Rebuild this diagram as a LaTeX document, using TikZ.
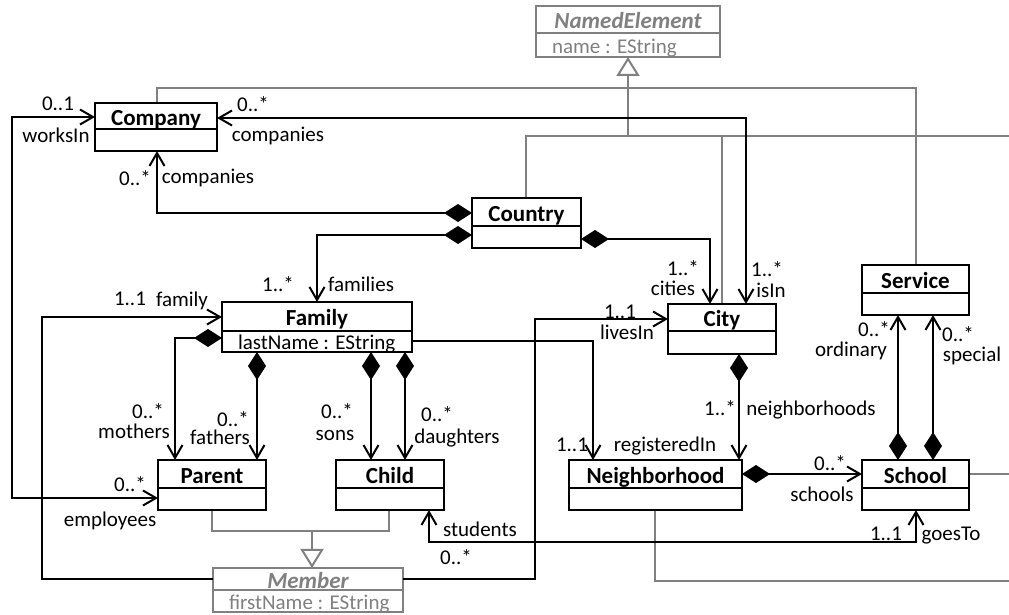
\documentclass[tikz,border=0pt]{standalone}
\usepackage{fontspec}
\setmainfont{Carlito}
\usetikzlibrary{arrows.meta}
\definecolor{umlgray}{RGB}{128,128,128}
\newcommand\lblfont{\fontsize{10.5}{12}\selectfont}
\newcommand\ttlfont{\fontsize{11.5}{13}\selectfont\bfseries}
\tikzset{
  ubarb/.tip={Straight Barb[length=6.5pt,width=7.5pt]},
  udia/.tip={Diamond[length=14pt,width=9pt]},
  ugen/.tip={Triangle[open,length=9.5pt,width=11.5pt,fill=white]},
}
% #1 name, #2 x1, #3 y1, #4 ysep, #5 x2, #6 y2, #7 title, #8 attr, #9 variant suffix ("" or "abs")
\newcommand\umlclass[9]{%
  \node[clsbox#9,anchor=north west,minimum width={(#5-#2)*0.5pt},minimum height={(#6-#3)*0.5pt}] (#1) at (#2,#3) {};
  \node[ttl#9] (#1-t) at ({(#2+#5)/2},{(#3+#4)/2}) {#7};
  \draw[sep#9] (#1.west |- 0,#4) -- (#1.east |- 0,#4);
  \node[att#9,anchor=west] (#1-a) at ({#2+15},{(#4+#6)/2}) {#8};
}
\begin{document}
\begin{tikzpicture}[x=0.5pt,y=-0.5pt,line width=1pt,
  clsbox/.style={draw=black,fill=white,line width=1pt,inner sep=0pt,outer sep=0pt},
  clsboxabs/.style={clsbox,draw=umlgray},
  lbl/.style={font=\lblfont,inner sep=0pt,text height=0.65em,text depth=0.2em,yshift=-2pt},
  ttl/.style={font=\ttlfont,inner sep=0pt,text height=0.65em,text depth=0.2em,yshift=-2.5pt},
  ttlabs/.style={ttl,font=\ttlfont\itshape,text=umlgray},
  att/.style={lbl},
  attabs/.style={lbl,text=umlgray},
  sep/.style={draw=black,line width=1pt},
  sepabs/.style={draw=umlgray,line width=1pt},
  genline/.style={draw=umlgray,line width=1pt},
  assoc/.style={draw=black,line width=1pt},
]
\useasboundingbox (0,0) rectangle (1009,615);

% generalization lines (gray)
\draw[genline] (526,198) -- (526,136) -- (1009,136);
\draw[genline] (722,304) -- (722,136);
\draw[genline] (157,103) -- (157,88) -- (916,88) -- (916,265);
\draw[genline] (969,474) -- (1009,474);
\draw[genline] (655,510) -- (655,581) -- (1009,581);
\draw[genline] (212,510) -- (212,531) -- (389,531) -- (389,510);

% classes
\umlclass{named}{536}{6}{33}{720}{57}{NamedElement}{name : EString}{abs}
\umlclass{company}{95}{103}{129}{217}{151}{Company}{}{}
\umlclass{country}{472}{198}{226}{581}{248}{Country}{}{}
\umlclass{family}{222}{302}{331}{412}{352}{Family}{lastName : EString}{}
\umlclass{city}{668}{304}{331}{776}{354}{City}{}{}
\umlclass{service}{862}{265}{293}{969}{315}{Service}{}{}
\umlclass{parent}{158}{460}{488}{266}{510}{Parent}{}{}
\umlclass{child}{336}{460}{488}{444}{510}{Child}{}{}
\umlclass{nbh}{569}{460}{488}{742}{510}{Neighborhood}{}{}
\umlclass{school}{862}{460}{488}{969}{510}{School}{}{}
\umlclass{member}{213}{568}{590}{403}{612}{Member}{firstName : EString}{abs}

% generalization arrows
\draw[genline,-ugen] (628,136) -- (named.south);
\draw[genline,-ugen] (312,531) -- (member.north -| 312,0);

% associations
\draw[assoc,ubarb-ubarb] (company.west |- 0,117) -- (12,117) -- (12,498) -- (parent.west |- 0,498);
\draw[assoc,ubarb-ubarb] (company.east |- 0,118) -- (746,118) -- (city.north -| 746,0);
\draw[assoc,udia-ubarb] (country.west |- 0,213) -- (157,213) -- (company.south -| 157,0);
\draw[assoc,udia-ubarb] (country.west |- 0,235) -- (317,235) -- (family.north -| 317,0);
\draw[assoc,udia-ubarb] (country.east |- 0,239) -- (710,239) -- (city.north -| 710,0);
\draw[assoc,-ubarb] (member.west |- 0,579) -- (42,579) -- (42,317) -- (family.west |- 0,317);
\draw[assoc,-ubarb] (member.east |- 0,579) -- (535,579) -- (535,319) -- (city.west |- 0,319);
\draw[assoc,-ubarb] (family.east |- 0,341) -- (593,341) -- (nbh.north -| 593,0);
\draw[assoc,udia-ubarb] (family.west |- 0,338) -- (175,338) -- (parent.north -| 175,0);
\draw[assoc,udia-ubarb] (family.south -| 257,0) -- (parent.north -| 257,0);
\draw[assoc,udia-ubarb] (family.south -| 371,0) -- (child.north -| 371,0);
\draw[assoc,udia-ubarb] (family.south -| 405,0) -- (child.north -| 405,0);
\draw[assoc,udia-ubarb] (city.south -| 739,0) -- (nbh.north -| 739,0);
\draw[assoc,udia-ubarb] (nbh.east |- 0,474) -- (school.west |- 0,474);
\draw[assoc,udia-ubarb] (school.north -| 898,0) -- (service.south -| 898,0);
\draw[assoc,udia-ubarb] (school.north -| 933,0) -- (service.south -| 933,0);
\draw[assoc,ubarb-ubarb] (child.south -| 429,0) -- (429,542) -- (916,542) -- (school.south -| 916,0);

% labels
\node[lbl] (l1) at (58,102) {0..1};
\node[lbl] (l2) at (56,134) {worksIn};
\node[lbl] (l3) at (253,103) {0..*};
\node[lbl] (l4) at (278,133) {companies};
\node[lbl] (l5) at (135,177) {0..*};
\node[lbl] (l6) at (208,175) {companies};
\node[lbl] (l7) at (278,283) {1..*};
\node[lbl] (l8) at (361,283) {families};
\node[lbl] (l9) at (683,267) {1..*};
\node[lbl] (l10) at (673,287) {cities};
\node[lbl] (l11) at (767,268) {1..*};
\node[lbl] (l12) at (771,289) {isIn};
\node[lbl] (l13) at (130,297) {1..1};
\node[lbl] (l14) at (182,298) {family};
\node[lbl] (l15) at (620,310) {1..1};
\node[lbl] (l16) at (627,331) {livesIn};
\node[lbl] (l17) at (572,443) {1..1};
\node[lbl] (l18) at (665,443) {registeredIn};
\node[lbl] (l19) at (148,410) {0..*};
\node[lbl] (l20) at (134,430) {mothers};
\node[lbl] (l21) at (233,418) {0..*};
\node[lbl] (l22) at (220,436) {fathers};
\node[lbl] (l23) at (337,410) {0..*};
\node[lbl] (l24) at (335,432) {sons};
\node[lbl] (l25) at (437,413) {0..*};
\node[lbl] (l26) at (457,435) {daughters};
\node[lbl] (l27) at (130,483) {0..*};
\node[lbl] (l28) at (110,518) {employees};
\node[lbl] (l29) at (720,407) {1..*};
\node[lbl] (l30) at (811,407) {neighborhoods};
\node[lbl] (l31) at (830,462) {0..*};
\node[lbl] (l32) at (822,493) {schools};
\node[lbl] (l33) at (874,328) {0..*};
\node[lbl] (l34) at (851,348) {ordinary};
\node[lbl] (l35) at (958,333) {0..*};
\node[lbl] (l36) at (972,353) {special};
\node[lbl] (l37) at (480,528) {students};
\node[lbl] (l38) at (456,556) {0..*};
\node[lbl] (l39) at (886,532) {1..1};
\node[lbl] (l40) at (951,532) {goesTo};
\end{tikzpicture}
\end{document}
